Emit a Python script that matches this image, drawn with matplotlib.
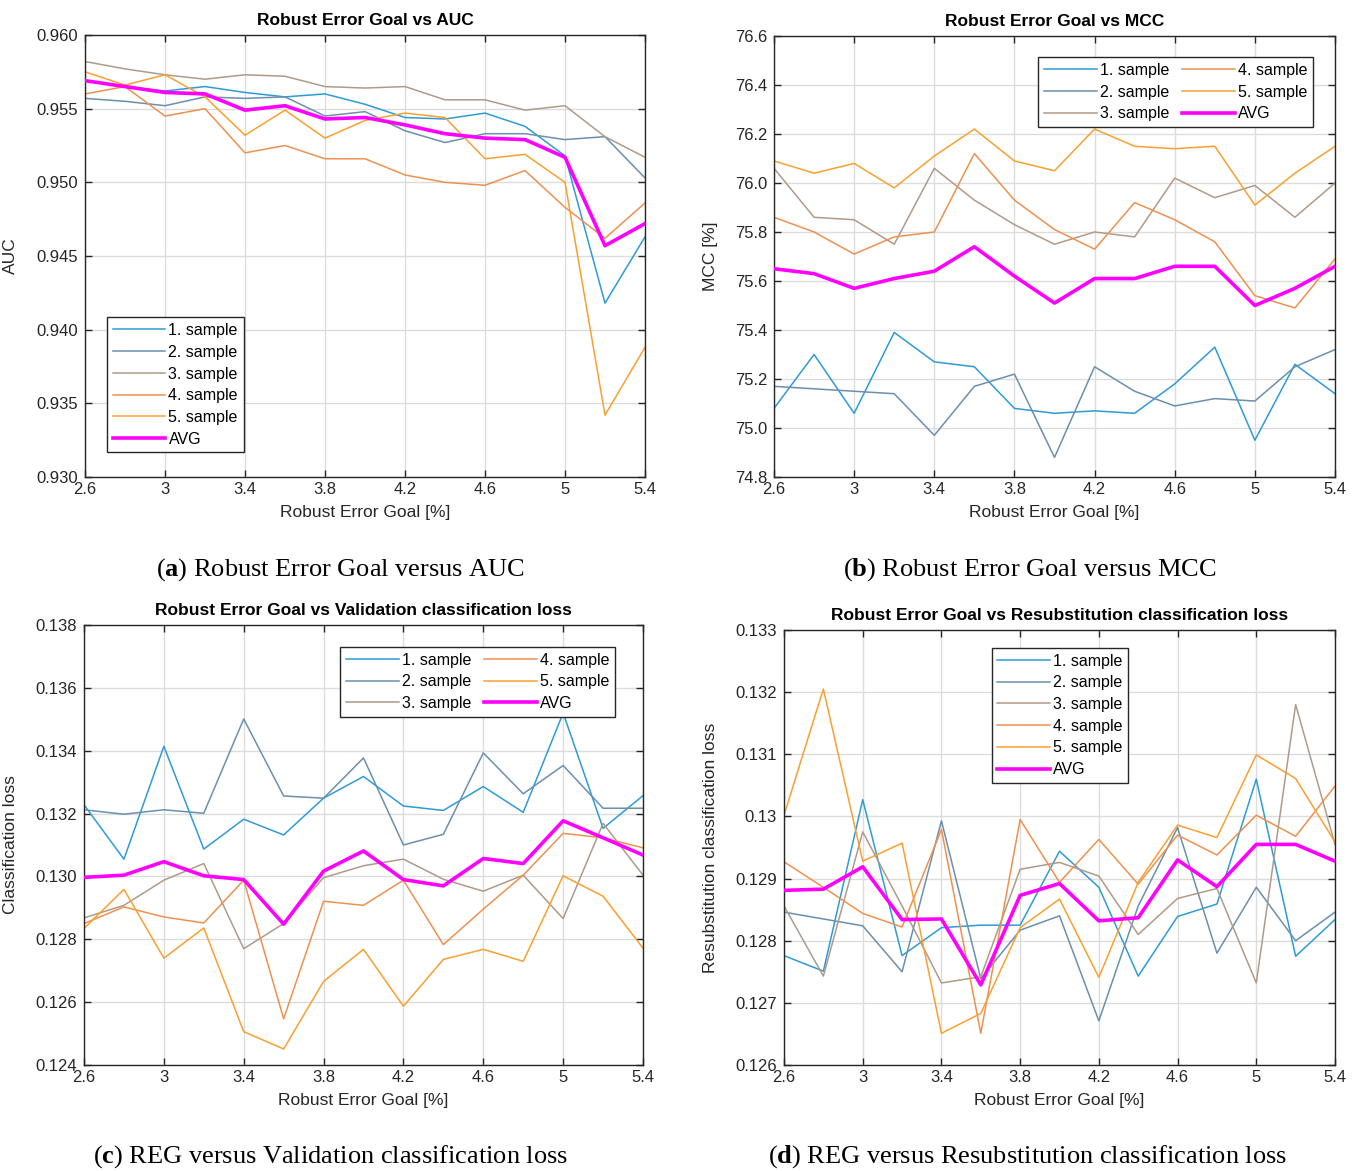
import matplotlib
matplotlib.use('Agg')
import matplotlib.pyplot as plt
from matplotlib.ticker import FormatStrFormatter, MultipleLocator

plt.rcParams['font.family'] = ['Liberation Sans', 'DejaVu Sans']
plt.rcParams['mathtext.fontset'] = 'custom'
plt.rcParams['mathtext.rm'] = 'Liberation Serif'
plt.rcParams['mathtext.bf'] = 'Liberation Serif:bold'

reg = [2.6, 2.8, 3.0, 3.2, 3.4, 3.6, 3.8, 4.0, 4.2, 4.4, 4.6, 4.8, 5.0, 5.2, 5.4]
reg_ticks = [2.6, 3.0, 3.4, 3.8, 4.2, 4.6, 5.0, 5.4]
labels = ['1. sample', '2. sample', '3. sample', '4. sample', '5. sample', 'AVG']
colors = ['#2e9bd6', '#6b8fae', '#b09a88', '#ee9150', '#f9a030', '#ff00ff']

# (a) AUC
auc_s1 = [0.9569, 0.9565, 0.9562, 0.9565, 0.9561, 0.9558, 0.9560, 0.9553, 0.9544, 0.9543, 0.9547, 0.9538, 0.9518, 0.9418, 0.9463]
auc_s2 = [0.9557, 0.9555, 0.9552, 0.9558, 0.9557, 0.9558, 0.9545, 0.9548, 0.9535, 0.9527, 0.9533, 0.9533, 0.9529, 0.9531, 0.9503]
auc_s3 = [0.9582, 0.9577, 0.9573, 0.9570, 0.9573, 0.9572, 0.9565, 0.9564, 0.9565, 0.9556, 0.9556, 0.9549, 0.9552, 0.9531, 0.9517]
auc_s4 = [0.9560, 0.9565, 0.9545, 0.9550, 0.9520, 0.9525, 0.9516, 0.9516, 0.9505, 0.9500, 0.9498, 0.9508, 0.9483, 0.9462, 0.9486]
auc_s5 = [0.9575, 0.9566, 0.9573, 0.9558, 0.9532, 0.9549, 0.9530, 0.9542, 0.9547, 0.9544, 0.9516, 0.9519, 0.9500, 0.9342, 0.9388]
auc_avg = [0.9569, 0.9565, 0.9561, 0.9560, 0.9549, 0.9552, 0.9543, 0.9544, 0.9539, 0.9533, 0.9530, 0.9529, 0.9517, 0.9457, 0.9472]

# (b) MCC
mcc_s1 = [75.08, 75.30, 75.06, 75.39, 75.27, 75.25, 75.08, 75.06, 75.07, 75.06, 75.18, 75.33, 74.95, 75.26, 75.14]
mcc_s2 = [75.17, 75.16, 75.15, 75.14, 74.97, 75.17, 75.22, 74.88, 75.25, 75.15, 75.09, 75.12, 75.11, 75.25, 75.32]
mcc_s3 = [76.06, 75.86, 75.85, 75.75, 76.06, 75.93, 75.83, 75.75, 75.80, 75.78, 76.02, 75.94, 75.99, 75.86, 76.00]
mcc_s4 = [75.86, 75.80, 75.71, 75.78, 75.80, 76.12, 75.93, 75.81, 75.73, 75.92, 75.85, 75.76, 75.54, 75.49, 75.69]
mcc_s5 = [76.09, 76.04, 76.08, 75.98, 76.11, 76.22, 76.09, 76.05, 76.22, 76.15, 76.14, 76.15, 75.91, 76.04, 76.15]
mcc_avg = [75.65, 75.63, 75.57, 75.61, 75.64, 75.74, 75.62, 75.51, 75.61, 75.61, 75.66, 75.66, 75.50, 75.57, 75.66]

# (c) validation classification loss
val_s1 = [0.13228, 0.13055, 0.13414, 0.13087, 0.13182, 0.13132, 0.13249, 0.13318, 0.13224, 0.13210, 0.13286, 0.13204, 0.13520, 0.13153, 0.13257]
val_s2 = [0.13212, 0.13198, 0.13212, 0.13201, 0.13501, 0.13256, 0.13249, 0.13377, 0.13100, 0.13134, 0.13393, 0.13263, 0.13353, 0.13217, 0.13217]
val_s3 = [0.12868, 0.12908, 0.12988, 0.13041, 0.12770, 0.12850, 0.12996, 0.13034, 0.13055, 0.12991, 0.12953, 0.13004, 0.12866, 0.13169, 0.13004]
val_s4 = [0.12850, 0.12903, 0.12871, 0.12852, 0.12988, 0.12547, 0.12921, 0.12908, 0.12988, 0.12783, 0.12896, 0.13004, 0.13137, 0.13123, 0.13091]
val_s5 = [0.12834, 0.12959, 0.12740, 0.12836, 0.12506, 0.12451, 0.12666, 0.12768, 0.12587, 0.12736, 0.12768, 0.12730, 0.13002, 0.12937, 0.12772]
val_avg = [0.12997, 0.13004, 0.13047, 0.13002, 0.12990, 0.12848, 0.13017, 0.13081, 0.12990, 0.12970, 0.13057, 0.13041, 0.13177, 0.13123, 0.13068]

# (d) resubstitution classification loss
res_s1 = [0.12776, 0.12751, 0.13027, 0.12776, 0.12821, 0.12825, 0.12825, 0.12944, 0.12886, 0.12743, 0.12839, 0.12859, 0.13060, 0.12775, 0.12834]
res_s2 = [0.12846, 0.12835, 0.12824, 0.12750, 0.12993, 0.12739, 0.12817, 0.12840, 0.12671, 0.12856, 0.12982, 0.12780, 0.12886, 0.12800, 0.12846]
res_s3 = [0.12856, 0.12743, 0.12975, 0.12856, 0.12732, 0.12742, 0.12915, 0.12926, 0.12904, 0.12810, 0.12868, 0.12884, 0.12732, 0.13180, 0.12955]
res_s4 = [0.12927, 0.12886, 0.12844, 0.12822, 0.12979, 0.12651, 0.12995, 0.12894, 0.12963, 0.12891, 0.12970, 0.12938, 0.13002, 0.12968, 0.13049]
res_s5 = [0.13002, 0.13205, 0.12928, 0.12957, 0.12651, 0.12683, 0.12821, 0.12867, 0.12741, 0.12894, 0.12986, 0.12966, 0.13099, 0.13061, 0.12959]
res_avg = [0.12881, 0.12883, 0.12919, 0.12834, 0.12835, 0.12729, 0.12873, 0.12892, 0.12832, 0.12837, 0.12930, 0.12887, 0.12955, 0.12955, 0.12928]

fig = plt.figure(figsize=(13.6, 11.71), dpi=100)
W, H = 1360, 1171


def px_axes(l, t, r, b):
    return fig.add_axes([l / W, 1 - b / H, (r - l) / W, (b - t) / H])


panels = [
    dict(box=(85, 35, 645, 477), series=[auc_s1, auc_s2, auc_s3, auc_s4, auc_s5, auc_avg],
         title='Robust Error Goal vs AUC', ylabel='AUC', ylim=(0.930, 0.960), ystep=0.005,
         yfmt='%.3f', ylab_x=-0.12, leg=dict(loc='lower left', bbox_to_anchor=(0.025, 0.038), ncol=1),
         caption=('a', 'Robust Error Goal versus AUC'), cap_xy=(340, 570)),
    dict(box=(774, 36, 1335, 477), series=[mcc_s1, mcc_s2, mcc_s3, mcc_s4, mcc_s5, mcc_avg],
         title='Robust Error Goal vs MCC', ylabel='MCC [%]', ylim=(74.8, 76.6), ystep=0.2,
         yfmt='%.1f', ylab_x=-0.10, leg=dict(loc='upper right', bbox_to_anchor=(0.975, 0.97), ncol=2),
         caption=('b', 'Robust Error Goal versus MCC'), cap_xy=(1030, 570)),
    dict(box=(84, 625, 643, 1065), series=[val_s1, val_s2, val_s3, val_s4, val_s5, val_avg],
         title='Robust Error Goal vs Validation classification loss', ylabel='Classification loss',
         ylim=(0.124, 0.138), ystep=0.002, yfmt='%.3f', ylab_x=-0.118,
         leg=dict(loc='upper right', bbox_to_anchor=(0.964, 0.968), ncol=2),
         caption=('c', 'REG versus Validation classification loss'), cap_xy=(331, 1157)),
    dict(box=(784, 630, 1335, 1065), series=[res_s1, res_s2, res_s3, res_s4, res_s5, res_avg],
         title='Robust Error Goal vs Resubstitution classification loss',
         ylabel='Resubstitution classification loss', ylim=(0.126, 0.133), ystep=0.001,
         yfmt='%g', ylab_x=-0.12, leg=dict(loc='upper center', bbox_to_anchor=(0.501, 0.977), ncol=1),
         caption=('d', 'REG versus Resubstitution classification loss'), cap_xy=(1028, 1157)),
]

for p in panels:
    ax = px_axes(*p['box'])
    for vals, lab, col in zip(p['series'], labels, colors):
        lw = 2.6 if lab == 'AVG' else 1.1
        ax.plot(reg, vals, color=col, lw=lw, label=lab, zorder=3 if lab == 'AVG' else 2)
    ax.set_xlim(2.6, 5.4)
    ax.set_ylim(*p['ylim'])
    ax.set_xticks(reg_ticks)
    ax.xaxis.set_major_formatter(FormatStrFormatter('%g'))
    ax.yaxis.set_major_locator(MultipleLocator(p['ystep']))
    ax.yaxis.set_major_formatter(FormatStrFormatter(p['yfmt']))
    ax.grid(True, color='#dcdcdc', lw=1.0)
    ax.set_axisbelow(True)
    ax.tick_params(direction='in', top=True, right=True, labelsize=12, colors='#262626',
                   length=5, width=1)
    ax.tick_params(axis='y', pad=5)
    for s in ax.spines.values():
        s.set_color('#262626')
        s.set_linewidth(1.0)
    ax.set_title(p['title'], fontsize=12.5, fontweight='bold', pad=7)
    ax.set_xlabel('Robust Error Goal [%]', fontsize=12.5, color='#262626', labelpad=6)
    ax.set_ylabel(p['ylabel'], fontsize=12.5, color='#262626')
    ax.yaxis.set_label_coords(p['ylab_x'], 0.5)
    leg = ax.legend(fontsize=11.5, handlelength=3.3, handletextpad=0.2, labelspacing=0.42,
                    borderpad=0.35, columnspacing=0.8, fancybox=False, framealpha=1,
                    edgecolor='#262626', **p['leg'])
    leg.get_frame().set_linewidth(1.0)
    letter, text = p['caption']
    cx, cy = p['cap_xy']
    fig.text(cx / W, 1 - cy / H, '(' + r'$\mathbf{' + letter + '}$' + ') ' + text,
             family='Liberation Serif', fontsize=19, ha='center', va='center')

fig.savefig('out.png', dpi=100)
